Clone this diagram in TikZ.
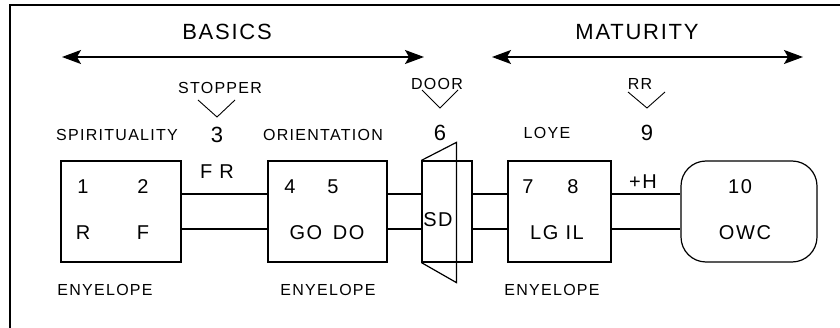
\documentclass[tikz,border=0pt]{standalone}
\usepackage{fontspec}
\setmainfont[LetterSpace=8]{Liberation Sans}
\usetikzlibrary{arrows.meta}
\tikzset{
  box/.style={draw, line width=1.2pt, inner sep=0pt, minimum height=101pt},
  head/.style={font=\fontsize{22}{22}\selectfont},
  big/.style={font=\fontsize{20}{20}\selectfont},
  lbl/.style={font=\fontsize{16}{16}\selectfont},
  wire/.style={line width=1.2pt},
  span/.style={line width=1.3pt, {Stealth[length=19pt,width=14pt,inset=4pt]}-{Stealth[length=19pt,width=14pt,inset=4pt]}},
  vee/.style={line width=0.9pt}
}
\begin{document}
\begin{tikzpicture}[x=1pt,y=-1pt]
    \useasboundingbox (0,0) rectangle (840,328);
    \draw[line width=1.5pt] (840,5) -- (10,5) -- (10,328);
    % stages
    \node[head] (basics) at (227,32) {BASICS};
    \node[head] (maturity) at (637,32) {MATURITY};
    \coordinate (bl) at (62,57);
    \coordinate (br) at (424,57);
    \coordinate (ml) at (492,57);
    \coordinate (mr) at (803,57);
    \draw[span] (bl) -- (br);
    \draw[span] (ml) -- (mr);
    % markers
    \node[lbl] (stopper) at (220,88) {STOPPER};
    \draw[vee] (198,100) -- (217,117) -- (235,100);
    \node[lbl] (doorlbl) at (437,84) {DOOR};
    \draw[vee] (422,90) -- (440,108) -- (458,90);
    \node[lbl] (rr) at (640,84) {RR};
    \draw[vee] (628,92) -- (647,108) -- (665,92);
    \node[lbl] (spirit) at (117,135) {SPIRITUALITY};
    \node[head] (n3) at (217,135) {3};
    \node[lbl] (orient) at (323,135) {ORIENTATION};
    \node[head] (n6) at (440,133) {6};
    \node[lbl] (love) at (547,133) {LOYE};
    \node[head] (n9) at (647,133) {9};
    % boxes
    \node[box, minimum width=120pt] (b1) at (121,211.5) {};
    \node[box, minimum width=119pt] (b2) at (327.5,211.5) {};
    \node[box, minimum width=50pt] (door) at (447,211.5) {};
    \node[box, minimum width=103pt] (b3) at (559.5,211.5) {};
    \node[box, minimum width=136pt, rounded corners=25pt] (owc) at (749,211.5) {};
    \draw[wire] (door.north west) -- ([xshift=35pt,yshift=18pt]door.north west)
        -- ([xshift=35pt,yshift=-20pt]door.south west) -- (door.south west);
    % wires
    \foreach \a/\b in {b1/b2, b2/door, door/b3, b3/owc} {
        \draw[wire] ([yshift=17.5pt]\a.east) -- ([yshift=17.5pt]\b.west);
        \draw[wire] ([yshift=-17.5pt]\a.east) -- ([yshift=-17.5pt]\b.west);
    }
    % box texts
    \node[big] (n1) at (83,187) {1};
    \node[big] (n2) at (143,187) {2};
    \node[big] (r) at (83,233) {R};
    \node[big] (f) at (143,233) {F};
    \node[big] (fr) at (217,172) {F R};
    \node[big] (n4) at (290,187) {4};
    \node[big] (n5) at (333,187) {5};
    \node[big] (godo) at (327,233) {GO \,DO};
    \node[big] (sd) at (438,220) {SD};
    \node[big] (n7) at (528,187) {7};
    \node[big] (n8) at (573,187) {8};
    \node[big] (lgil) at (557,233) {LG IL};
    \node[big] (plush) at (643,182) {+H};
    \node[big] (n10) at (740,187) {10};
    \node[big] (owctxt) at (745,233) {OWC};
    \node[lbl] (env1) at (105,290) {ENYELOPE};
    \node[lbl] (env2) at (328,290) {ENYELOPE};
    \node[lbl] (env3) at (552,290) {ENYELOPE};
\end{tikzpicture}
\end{document}
